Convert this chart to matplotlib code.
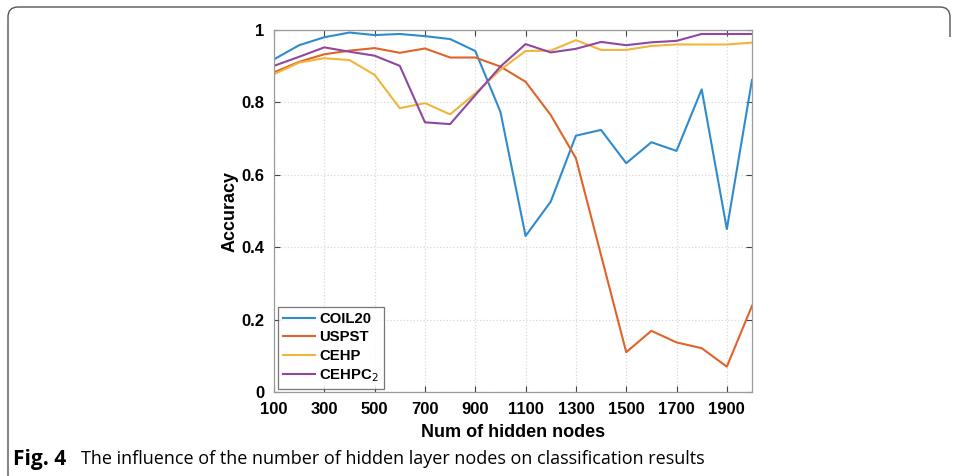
import matplotlib
matplotlib.use('Agg')
import matplotlib.pyplot as plt
from matplotlib.path import Path
from matplotlib.patches import PathPatch

# hidden layer sizes and accuracy per dataset
nodes = [100, 200, 300, 400, 500, 600, 700, 800, 900, 1000,
         1100, 1200, 1300, 1400, 1500, 1600, 1700, 1800, 1900, 2000]
coil20 = [0.919, 0.958, 0.980, 0.993, 0.986, 0.989, 0.983, 0.975, 0.942, 0.774,
          0.431, 0.526, 0.708, 0.724, 0.632, 0.690, 0.666, 0.836, 0.450, 0.862]
uspst = [0.883, 0.912, 0.933, 0.943, 0.950, 0.937, 0.949, 0.924, 0.924, 0.899,
         0.857, 0.765, 0.646, 0.378, 0.110, 0.169, 0.137, 0.121, 0.070, 0.238]
cehp = [0.878, 0.910, 0.922, 0.917, 0.876, 0.784, 0.798, 0.767, 0.825, 0.890,
        0.942, 0.943, 0.972, 0.945, 0.945, 0.956, 0.960, 0.960, 0.960, 0.965]
cehpc2 = [0.901, 0.926, 0.952, 0.940, 0.929, 0.901, 0.745, 0.740, 0.820, 0.899,
          0.961, 0.938, 0.948, 0.967, 0.958, 0.966, 0.970, 0.989, 0.989, 0.989]

xticks = [100, 300, 500, 700, 900, 1100, 1300, 1500, 1700, 1900]
yticks = [0, 0.2, 0.4, 0.6, 0.8, 1]
ytick_labels = ['0', '0.2', '0.4', '0.6', '0.8', '1']

W, H = 958, 476
fig = plt.figure(figsize=(W / 100, H / 100), dpi=100)

tickfont = ['Liberation Sans Narrow', 'Liberation Sans', 'DejaVu Sans']

ax = fig.add_axes([274 / W, 1 - 392 / H, 478 / W, 362 / H])
ax.plot(nodes, coil20, color='#2f8bcc', lw=1.5, label='COIL20')
ax.plot(nodes, uspst, color='#e0632a', lw=1.5, label='USPST')
ax.plot(nodes, cehp, color='#f0b53a', lw=1.5, label='CEHP')
ax.plot(nodes, cehpc2, color='#8e48a0', lw=1.5, label='CEHPC$_2$')

ax.set_xlim(100, 2000)
ax.set_ylim(0, 1)
ax.set_xticks(xticks)
ax.set_yticks(yticks)
ax.set_yticklabels(ytick_labels)
ax.grid(True, color='#d8d8d8', linestyle=':', linewidth=0.9)
ax.tick_params(direction='in', top=True, right=True, length=4, width=0.8,
               color='#444444', pad=7)
for lab in ax.get_xticklabels() + ax.get_yticklabels():
    lab.set_family(tickfont)
    lab.set_fontweight('bold')
    lab.set_fontsize(12)
for sp in ax.spines.values():
    sp.set_color('#9a9a9a')
    sp.set_linewidth(0.9)

ax.set_xlabel('Num of hidden nodes', family=tickfont, fontweight='bold',
              fontsize=13, labelpad=5)
ax.set_ylabel('Accuracy', family=tickfont, fontweight='bold',
              fontsize=13, labelpad=2)

leg = ax.legend(loc='lower left', bbox_to_anchor=(0.008, 0.008), fancybox=False,
                edgecolor='#555555', handlelength=2.15, handletextpad=0.3,
                borderpad=0.35, labelspacing=0.3, borderaxespad=0,
                prop={'family': tickfont, 'weight': 'bold', 'size': 10.7})
leg.get_frame().set_linewidth(0.9)

# rounded frame around the figure panel
x0, y0, x1 = 8 / W, 1 - 7 / H, 950 / W
r = 10
rx, ry = r / W, r / H
verts = [(x0, 0), (x0, y0 - ry), (x0, y0), (x0 + rx, y0),
         (x1 - rx, y0), (x1, y0), (x1, y0 - ry), (x1, y0 - 3 * ry)]
codes = [Path.MOVETO, Path.LINETO, Path.CURVE3, Path.CURVE3,
         Path.LINETO, Path.CURVE3, Path.CURVE3, Path.LINETO]
fig.add_artist(PathPatch(Path(verts, codes), transform=fig.transFigure,
                         fill=False, edgecolor='#555555', lw=1.0))

capfont = ['Open Sans', 'DejaVu Sans']
fig.text(13 / W, 1 - 459 / H, 'Fig. 4', family=capfont, fontweight='bold',
         fontsize=15, va='center')
fig.text(81 / W, 1 - 459 / H,
         'The influence of the number of hidden layer nodes on classification results',
         family=capfont, fontsize=13, va='center')

fig.savefig('out.png', dpi=100)
